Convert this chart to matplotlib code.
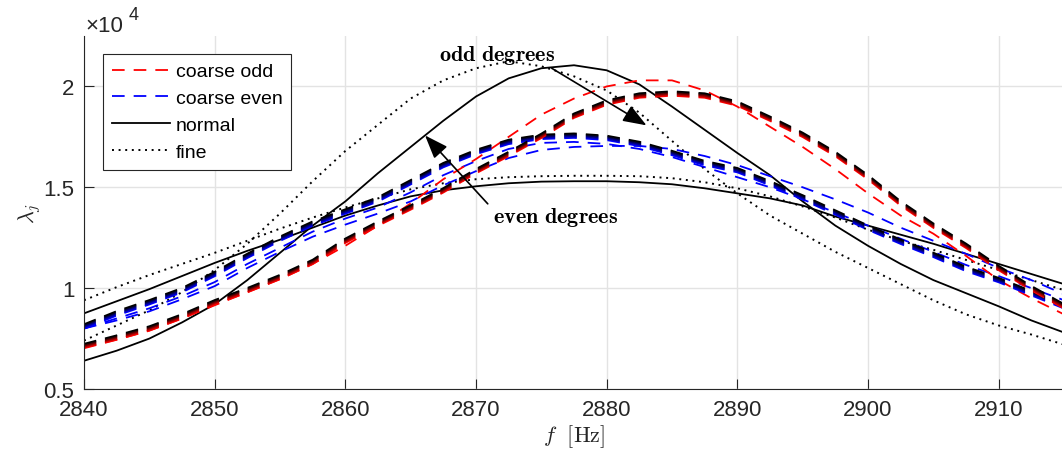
import matplotlib.pyplot as plt
import matplotlib.patheffects as pe

plt.rcParams['font.family'] = ['Liberation Sans', 'DejaVu Sans']
plt.rcParams['mathtext.fontset'] = 'cm'

# frequency samples [Hz]
freq = [2840, 2842.5, 2845, 2847.5, 2850, 2852.5, 2855, 2857.5, 2860, 2862.5,
        2865, 2867.5, 2870, 2872.5, 2875, 2877.5, 2880, 2882.5, 2885, 2887.5,
        2890, 2892.5, 2895, 2897.5, 2900, 2902.5, 2905, 2907.5, 2910, 2912.5, 2915]

# lambda_j values in units of 1e4
normal_odd = [0.64, 0.69, 0.75, 0.83, 0.92, 1.04, 1.175, 1.31, 1.43, 1.57,
              1.70, 1.83, 1.95, 2.04, 2.09, 2.105, 2.08, 2.01, 1.90, 1.785,
              1.67, 1.56, 1.43, 1.31, 1.21, 1.12, 1.04, 0.975, 0.91, 0.84, 0.78]
normal_even = [0.875, 0.935, 0.995, 1.06, 1.125, 1.185, 1.24, 1.30, 1.36, 1.41,
               1.455, 1.485, 1.505, 1.52, 1.528, 1.53, 1.53, 1.525, 1.515, 1.495,
               1.47, 1.445, 1.41, 1.355, 1.31, 1.265, 1.22, 1.17, 1.12, 1.07, 1.02]
fine_odd = [0.74, 0.815, 0.89, 0.98, 1.09, 1.22, 1.37, 1.53, 1.68, 1.81,
            1.94, 2.03, 2.09, 2.125, 2.10, 2.05, 1.98, 1.87, 1.73, 1.59,
            1.47, 1.36, 1.27, 1.18, 1.10, 1.02, 0.94, 0.87, 0.815, 0.77, 0.72]
fine_even = [0.94, 1.005, 1.065, 1.12, 1.175, 1.235, 1.295, 1.35, 1.40, 1.445,
             1.49, 1.52, 1.54, 1.55, 1.555, 1.557, 1.557, 1.555, 1.545, 1.525,
             1.495, 1.455, 1.405, 1.35, 1.29, 1.235, 1.19, 1.14, 1.09, 1.04, 0.99]

# coarse mesh, odd degrees: one single curve and a bundle of near-identical ones
coarse_odd_single = [0.705, 0.745, 0.79, 0.85, 0.915, 0.98, 1.045, 1.12, 1.21, 1.31,
                     1.42, 1.54, 1.64, 1.75, 1.86, 1.94, 2.00, 2.03, 2.03, 1.98,
                     1.90, 1.80, 1.70, 1.59, 1.47, 1.36, 1.27, 1.16, 1.04, 0.95, 0.87]
coarse_odd_bundle = [0.713, 0.755, 0.80, 0.86, 0.93, 0.99, 1.055, 1.13, 1.235, 1.32,
                     1.40, 1.485, 1.58, 1.665, 1.755, 1.855, 1.92, 1.955, 1.965, 1.955,
                     1.915, 1.84, 1.76, 1.665, 1.55, 1.42, 1.31, 1.21, 1.10, 1.00, 0.91]

# coarse mesh, even degrees
coarse_even_single_a = [0.80, 0.84, 0.885, 0.945, 1.01, 1.10, 1.18, 1.255, 1.315, 1.37,
                        1.43, 1.51, 1.58, 1.645, 1.685, 1.70, 1.705, 1.705, 1.69, 1.655,
                        1.61, 1.555, 1.50, 1.44, 1.375, 1.30, 1.235, 1.17, 1.10, 1.04, 0.97]
coarse_even_single_b = [0.80, 0.85, 0.90, 0.96, 1.03, 1.12, 1.20, 1.28, 1.345, 1.40,
                        1.475, 1.56, 1.63, 1.69, 1.72, 1.725, 1.715, 1.69, 1.65, 1.60,
                        1.55, 1.50, 1.44, 1.375, 1.31, 1.245, 1.18, 1.115, 1.06, 1.00, 0.94]
coarse_even_bundle = [0.81, 0.875, 0.93, 0.99, 1.07, 1.16, 1.245, 1.32, 1.38, 1.44,
                      1.525, 1.61, 1.675, 1.725, 1.75, 1.756, 1.745, 1.715, 1.67, 1.62,
                      1.585, 1.52, 1.45, 1.375, 1.30, 1.23, 1.165, 1.095, 1.04, 0.975, 0.91]

dash = (0, (7, 5))
dots = (0, (1, 2.4))
dark = '#262626'

fig = plt.figure(figsize=(10.62, 4.56), dpi=100)
ax = fig.add_axes([84 / 1062, 66 / 456, 980 / 1062, 353 / 456])

l_fine, = ax.plot(freq, fine_odd, color='k', lw=1.4, ls=dots)
ax.plot(freq, fine_even, color='k', lw=1.4, ls=dots)
l_norm, = ax.plot(freq, normal_odd, color='k', lw=1.3)
ax.plot(freq, normal_even, color='k', lw=1.3)

l_even, = ax.plot(freq, coarse_even_single_a, color='b', lw=1.3, ls=dash)
ax.plot(freq, coarse_even_single_b, color='b', lw=1.3, ls=dash)
l_odd, = ax.plot(freq, coarse_odd_single, color='r', lw=1.3, ls=dash)


# bundles of overlapping curves: fade from colour (bottom) to black (top)
def fade(colors):
    offs = [-1.6, -0.8, 0.0, 0.8, 1.6]
    return [pe.Stroke(offset=(0, o), foreground=c, linewidth=1.3)
            for o, c in zip(offs, colors)]


reds = ['#ff0000', '#c00000', '#800000', '#400000', '#000000']
blues = ['#0000ff', '#0000c0', '#000080', '#000040', '#000000']
ax.plot(freq, coarse_even_bundle, color='b', lw=1.3, ls=dash,
        path_effects=fade(blues))
ax.plot(freq, coarse_odd_bundle, color='r', lw=1.3, ls=dash,
        path_effects=fade(reds))

ax.set_xlim(2840, 2915)
ax.set_ylim(0.5, 2.25)
ax.set_xticks([2840, 2850, 2860, 2870, 2880, 2890, 2900, 2910])
ax.set_yticks([0.5, 1, 1.5, 2])
ax.set_yticklabels(['0.5', '1', '1.5', '2'])
ax.grid(True, color='#e3e3e3', lw=1.0)
ax.set_axisbelow(True)
ax.tick_params(direction='in', length=7, width=0.8, color=dark,
               labelcolor=dark, labelsize=16, pad=7)
for s in ['top', 'right']:
    ax.spines[s].set_visible(False)
for s in ['left', 'bottom']:
    ax.spines[s].set_color(dark)
    ax.spines[s].set_linewidth(0.8)

ax.set_xlabel(r'$f\ \ \mathrm{[Hz]}$', fontsize=16, color=dark, labelpad=2)
ax.set_ylabel(r'$\lambda_j$', fontsize=16, color=dark, labelpad=0)
fig.text(85 / 1062, 1 - 26 / 456, '\u00d710', fontsize=16, color=dark,
         ha='left', va='center')
fig.text(129 / 1062, 1 - 16 / 456, '4', fontsize=13, color=dark,
         ha='left', va='center')

arrow = dict(arrowstyle='-|>,head_length=0.8,head_width=0.3', color='k',
             lw=1.2, shrinkA=0, shrinkB=0, mutation_scale=18)
ax.annotate('', xy=(2883.05, 1.807), xytext=(2875.8, 2.09), arrowprops=arrow)
ax.annotate('', xy=(2866.1, 1.757), xytext=(2870.9, 1.418), arrowprops=arrow)
ax.text(2871.6, 2.16, r'$\mathbf{odd\ degrees}$', fontsize=16,
        ha='center', va='center')
ax.text(2876.1, 1.355, r'$\mathbf{even\ degrees}$', fontsize=16,
        ha='center', va='center')

leg = ax.legend([l_odd, l_even, l_norm, l_fine],
                ['coarse odd', 'coarse even', 'normal', 'fine'],
                loc='upper left', bbox_to_anchor=(103 / 1062, 1 - 55 / 456),
                bbox_transform=fig.transFigure, borderaxespad=0, fontsize=14,
                handlelength=3.0, handletextpad=0.3, labelspacing=0.48,
                borderpad=0.45, fancybox=False, framealpha=1, edgecolor=dark)
leg.get_frame().set_linewidth(0.8)

fig.savefig('out.png', dpi=100)
